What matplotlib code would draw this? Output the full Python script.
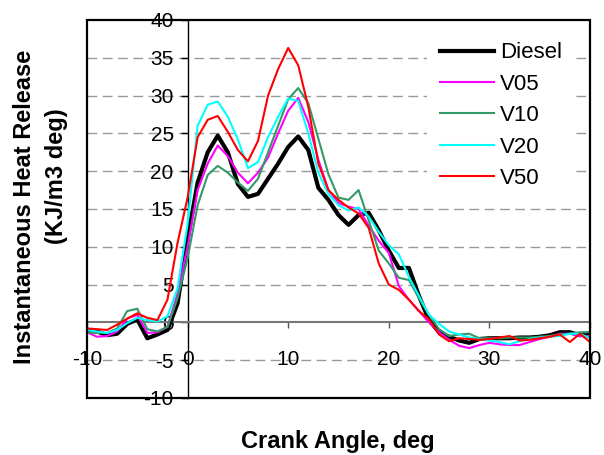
import numpy as np
import matplotlib
matplotlib.use("Agg")
import matplotlib.pyplot as plt
from matplotlib.patches import Rectangle

plt.rcParams['font.family'] = ['Liberation Sans', 'DejaVu Sans']
plt.rcParams['axes.unicode_minus'] = False

# crank angle, deg
angle = list(range(-10, 41))

diesel = [-1.0, -1.2, -1.7, -1.5, -0.2, 0.4, -2.1, -1.6, -1.0, 2.5,
          11.0, 18.5, 22.5, 24.7, 22.5, 18.3, 16.6, 17.0, 19.0, 21.0,
          23.2, 24.6, 22.8, 17.8, 16.2, 14.2, 12.9, 14.2, 14.5, 12.2,
          9.5, 7.2, 7.2, 3.5, 0.3, -1.3, -1.9, -2.4, -2.7, -2.2,
          -2.1, -2.1, -2.1, -2.0, -2.0, -1.9, -1.7, -1.3, -1.3, -1.7, -1.4]

v05 = [-1.3, -1.9, -1.8, -1.2, 0.5, 1.0, -1.4, -1.3, -0.6, 3.8,
       10.0, 17.5, 21.0, 23.4, 22.0, 19.8, 18.4, 19.8, 21.8, 25.0,
       28.0, 29.7, 26.5, 21.5, 17.5, 15.8, 15.3, 15.0, 12.8, 10.8,
       9.2, 4.8, 3.0, 1.5, 0.0, -1.3, -2.3, -3.1, -3.4, -3.0,
       -2.7, -2.9, -3.0, -3.0, -2.6, -2.2, -1.9, -1.5, -1.5, -1.8, -1.9]

v10 = [-1.3, -1.4, -1.4, -0.8, 1.5, 1.8, -0.9, -1.2, -0.6, 3.2,
       8.5, 15.5, 19.5, 20.7, 19.8, 18.5, 17.4, 19.0, 22.5, 26.0,
       29.5, 31.0, 29.0, 24.3, 19.6, 16.5, 16.2, 17.5, 13.5, 9.5,
       7.8, 5.9, 5.6, 3.2, 1.0, -0.9, -1.8, -1.6, -1.5, -2.1,
       -2.1, -2.1, -2.0, -2.0, -2.0, -1.9, -1.8, -1.6, -1.5, -1.3, -1.3]

v20 = [-1.0, -1.2, -1.4, -1.0, -0.1, 0.6, 0.3, 0.1, 0.8, 4.5,
       13.0, 26.0, 28.8, 29.2, 27.2, 24.2, 20.4, 21.2, 24.5, 27.2,
       29.6, 29.3, 25.0, 19.8, 17.0, 15.5, 14.8, 15.2, 14.0, 12.0,
       10.2, 9.0, 6.0, 3.5, 1.0, -0.2, -1.2, -1.6, -2.0, -2.2,
       -2.4, -2.6, -2.9, -2.5, -2.2, -2.0, -1.9, -1.8, -1.5, -1.5, -2.1]

v50 = [-0.8, -0.9, -1.0, -0.3, 0.5, 1.2, 0.6, 0.3, 3.0, 10.5,
       16.5, 24.5, 26.8, 27.3, 25.2, 22.8, 21.3, 24.0, 30.0, 33.5,
       36.3, 34.0, 28.5, 21.0, 17.5, 16.2, 15.2, 14.4, 12.5, 7.8,
       5.0, 4.3, 3.0, 1.5, 0.4, -1.6, -2.5, -2.1, -2.2, -2.3,
       -2.2, -2.0, -1.8, -2.4, -2.3, -2.1, -1.9, -1.6, -2.6, -1.5, -2.6]

series = [("Diesel", diesel, "black", 3.0),
          ("V05", v05, "#FF00FF", 1.5),
          ("V10", v10, "#339966", 1.5),
          ("V20", v20, "#00FFFF", 1.5),
          ("V50", v50, "#FF0000", 1.5)]

x_ticks = [-10, 0, 10, 20, 30, 40]
y_ticks = [-10, -5, 0, 5, 10, 15, 20, 25, 30, 35, 40]

fig = plt.figure(figsize=(6.04, 4.55), dpi=100)
ax = fig.add_axes([0.144, 0.1253, 0.8328, 0.8308])

# dashed grid (skip the 0 line, drawn as axis)
for v in y_ticks:
    if v in (-10, 0, 40):
        continue
    ax.axhline(v, color="#999999", lw=1.0, ls=(0, (7, 4)), zorder=1)

for name, vals, col, lw in series:
    ax.plot(angle, vals, color=col, lw=lw, label=name, zorder=3)

ax.set_xlim(-10, 40)
ax.set_ylim(-10, 40)

# axes crossing at zero
ax.spines['left'].set_position(('data', 0))
ax.spines['bottom'].set_position(('data', 0))
ax.spines['left'].set_linewidth(1.0)
ax.spines['bottom'].set_color("#777777")
ax.spines['bottom'].set_linewidth(1.5)
ax.spines['top'].set_visible(False)
ax.spines['right'].set_visible(False)
ax.add_patch(Rectangle((0, 0), 1, 1, transform=ax.transAxes, fill=False,
                       ec="black", lw=1.6, clip_on=False, zorder=5))

ax.set_xticks(x_ticks)
ax.set_yticks(y_ticks)
ax.tick_params(axis='y', direction='out', length=5, width=1, pad=5, labelsize=15)
ax.tick_params(axis='x', direction='out', length=4, width=1, pad=16, labelsize=15,
               color="#555555")

leg = ax.legend(loc='upper left', bbox_to_anchor=(0.676, 0.976), borderaxespad=0,
                frameon=True, fontsize=16, handlelength=2.4, handletextpad=0.3,
                labelspacing=0.47, borderpad=0.6)
leg.get_frame().set_edgecolor("none")
leg.get_frame().set_facecolor("white")
leg.get_frame().set_alpha(1.0)
leg.set_zorder(4)

fig.text(0.5596, 0.0286, "Crank Angle, deg", ha='center', va='center',
         fontsize=17, fontweight='bold')
fig.text(0.040, 0.545, "Instantaneous Heat Release", rotation=90, ha='center',
         va='center', fontsize=17, fontweight='bold')
fig.text(0.094, 0.613, "(KJ/m3 deg)", rotation=90, ha='center', va='center',
         fontsize=17, fontweight='bold')

fig.savefig("out.png", dpi=100)
